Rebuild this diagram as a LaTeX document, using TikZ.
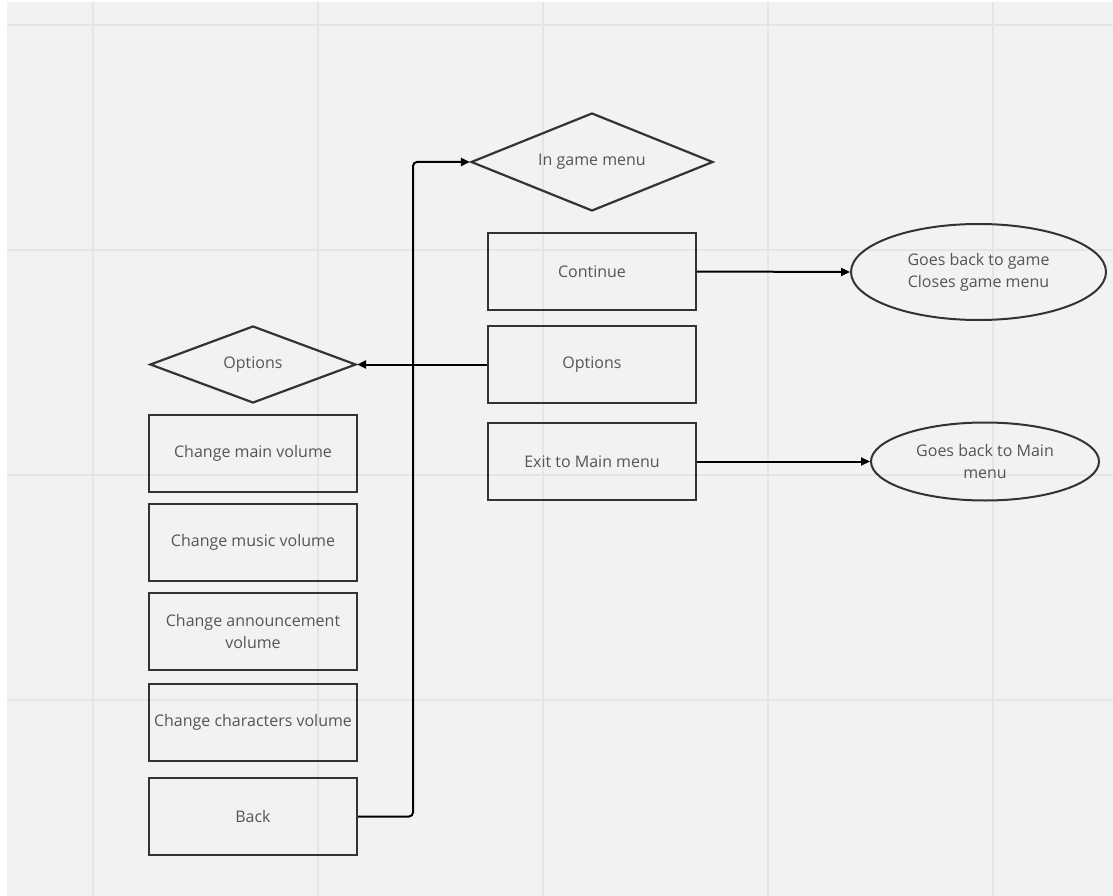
\documentclass[tikz,border=0pt]{standalone}
\usepackage{fontspec}
\setmainfont{Open Sans}
\usetikzlibrary{shapes.geometric,arrows.meta}
\definecolor{bg}{HTML}{F2F2F2}
\definecolor{gridc}{HTML}{E5E5E5}
\definecolor{edge}{HTML}{333333}
\definecolor{txt}{HTML}{555555}
\tikzset{
  lbl/.style={text=txt, font=\fontsize{16}{19}\selectfont, align=center},
  box/.style={draw=edge, line width=2.4pt, rectangle, minimum width=208pt, minimum height=77pt, inner sep=0pt, lbl},
  dia/.style={draw=edge, line width=2.2pt, diamond, inner sep=0pt},
  ell/.style={draw=edge, line width=2pt, ellipse, inner sep=0pt, lbl, font=\fontsize{16}{22}\selectfont},
  conn/.style={draw=black, line width=2pt, -{Triangle[length=9pt,width=8pt]}},
}
\begin{document}
\begin{tikzpicture}[x=1pt,y=-1pt]
\useasboundingbox (0,0) rectangle (1113,896);
\fill[white] (0,0) rectangle (1113,896);
\fill[bg] (7,2) rectangle (1113,896);
\foreach \gx in {93,318,543,768,993} \draw[gridc, line width=2pt] (\gx,2) -- (\gx,896);
\foreach \gy in {25,250,475,700} \draw[gridc, line width=2pt] (7,\gy) -- (1113,\gy);

\node[dia, minimum width=242pt, minimum height=98pt, label={[lbl]center:In game menu}] (igm) at (592,162) {};
\node[box] (cont) at (592,271.5) {Continue};
\node[box] (opt) at (592,364.5) {Options};
\node[box] (exit) at (592,461.5) {Exit to Main menu};
\node[ell, minimum width=255pt, minimum height=96pt] (e1) at (978.5,272) {Goes back to game\\Closes game menu};
\node[ell, minimum width=228pt, minimum height=78pt] (e2) at (985,461.5) {Goes back to Main\\menu};

\node[dia, minimum width=206pt, minimum height=77pt, label={[lbl]center:Options}] (odia) at (253,364.5) {};
\node[box] (mainv) at (253,453.5) {Change main volume};
\node[box] (musv) at (253,542.5) {Change music volume};
\node[box, font=\fontsize{16}{22}\selectfont] (annv) at (253,631.5) {Change announcement\\volume};
\node[box] (charv) at (253,722.5) {Change characters volume};
\node[box] (back) at (253,816.5) {Back};

\coordinate (bend) at (413,816.5);
\draw[conn, rounded corners=4pt] (back.east) -- (bend) -- (bend |- igm.west) -- (igm.west);
\draw[conn] (opt.west) -- (odia.east);
\draw[conn] (cont.east) -- (e1.west);
\draw[conn] (exit.east) -- (e2.west);
\end{tikzpicture}
\end{document}
